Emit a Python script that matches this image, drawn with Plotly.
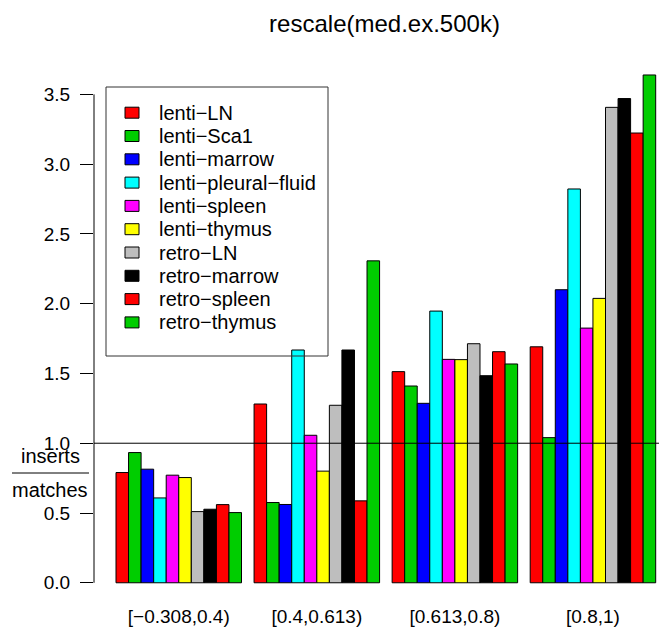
import plotly.graph_objects as go

categories = ["[\u22120.308,0.4)", "[0.4,0.613)", "[0.613,0.8)", "[0.8,1)"]
series_names = ["lenti\u2212LN", "lenti\u2212Sca1", "lenti\u2212marrow", "lenti\u2212pleural\u2212fluid",
                "lenti\u2212spleen", "lenti\u2212thymus", "retro\u2212LN", "retro\u2212marrow",
                "retro\u2212spleen", "retro\u2212thymus"]
series_colors = ["#FF0000", "#00CD00", "#0000FF", "#00FFFF", "#FF00FF", "#FFFF00",
                 "#BEBEBE", "#000000", "#FF0000", "#00CD00"]

lenti_LN = [0.79, 1.281, 1.513, 1.691]
lenti_Sca1 = [0.933, 0.575, 1.41, 1.04]
lenti_marrow = [0.814, 0.561, 1.286, 2.10]
lenti_pleural_fluid = [0.608, 1.668, 1.947, 2.822]
lenti_spleen = [0.771, 1.057, 1.601, 1.825]
lenti_thymus = [0.754, 0.80, 1.599, 2.038]
retro_LN = [0.51, 1.272, 1.713, 3.407]
retro_marrow = [0.527, 1.668, 1.484, 3.47]
retro_spleen = [0.56, 0.587, 1.656, 3.223]
retro_thymus = [0.503, 2.307, 1.568, 3.639]

series_values = [lenti_LN, lenti_Sca1, lenti_marrow, lenti_pleural_fluid, lenti_spleen,
                 lenti_thymus, retro_LN, retro_marrow, retro_spleen, retro_thymus]

y_tickvals = [0, 0.5, 1.0, 1.5, 2.0, 2.5, 3.0, 3.5]
y_ticktext = ["0.0", "0.5", "1.0", "1.5", "2.0", "2.5", "3.0", "3.5"]

# page has an 8px body margin; figure sized so it fills the window
OFF = 8
W, H = 667 - OFF, 632 - OFF
ML, MR, MT, MB = 94 - OFF, 0, 56 - OFF, 29
PW, PH = W - ML - MR, H - MT - MB
FONT = "Liberation Sans, Arial, Helvetica, sans-serif"

n_series = len(series_names)
group_size = n_series + 1

fig = go.Figure()
for j, (name, vals, col) in enumerate(zip(series_names, series_values, series_colors)):
    xs = [g * group_size + 1.5 + j for g in range(len(categories))]
    fig.add_trace(go.Bar(
        x=xs, y=vals, width=1, name=name, showlegend=False,
        marker=dict(color=col, line=dict(color="#000000", width=1)),
    ))

group_centers = [g * group_size + 1 + n_series / 2 for g in range(len(categories))]


def px_x(px):
    return (px - OFF - ML) / PW


def px_y(py):
    return (H - MB - (py - OFF)) / PH


fig.update_layout(
    width=W, height=H,
    margin=dict(l=ML, r=MR, t=MT, b=MB, autoexpand=False),
    paper_bgcolor="white", plot_bgcolor="white",
    barmode="overlay",
    font=dict(family=FONT, size=19, color="black"),
    title=dict(text="rescale(med.ex.500k)", x=px_x(384.5), xref="paper", xanchor="center",
               y=1 - (24 - OFF) / H, yref="container", yanchor="middle",
               font=dict(family=FONT, size=24, color="black")),
    xaxis=dict(range=[-0.753, 44.90], tickvals=group_centers, ticktext=categories,
               showgrid=False, zeroline=False, showline=False, ticks="",
               tickfont=dict(size=19), automargin=False),
    yaxis=dict(range=[-0.145, 3.775], tickvals=y_tickvals, ticktext=y_ticktext,
               showgrid=False, zeroline=False, showline=False, ticks="outside",
               ticklen=13, tickwidth=1, tickcolor="black", ticklabelstandoff=6,
               tickfont=dict(size=19), automargin=False),
    showlegend=False,
)

# y axis line (from 0 to 3.5, like R's axis)
fig.add_shape(type="line", xref="paper", yref="y", x0=0, x1=0, y0=0, y1=3.5,
              line=dict(color="black", width=1))
# reference line at 1
fig.add_shape(type="line", xref="paper", yref="y", x0=0, x1=1, y0=1, y1=1,
              line=dict(color="black", width=1))

# fraction y label
fig.add_annotation(text="inserts", xref="paper", yref="paper", x=px_x(50), y=px_y(456),
                   showarrow=False, xanchor="center", yanchor="middle",
                   font=dict(family=FONT, size=20, color="black"))
fig.add_annotation(text="matches", xref="paper", yref="paper", x=px_x(50), y=px_y(490),
                   showarrow=False, xanchor="center", yanchor="middle",
                   font=dict(family=FONT, size=20, color="black"))
fig.add_shape(type="line", xref="paper", yref="paper", x0=px_x(12), x1=px_x(89),
              y0=px_y(473), y1=px_y(473), line=dict(color="black", width=1))

# legend box (R-style, transparent background)
LEG_L, LEG_T, LEG_R, LEG_B = 106, 87, 328, 356
ROW0, ROW_STEP = 112.7, 23.3
fig.add_shape(type="rect", xref="paper", yref="paper",
              x0=px_x(LEG_L), x1=px_x(LEG_R), y0=px_y(LEG_B), y1=px_y(LEG_T),
              line=dict(color="#333333", width=1), fillcolor="rgba(0,0,0,0)", layer="above")
for i, (name, col) in enumerate(zip(series_names, series_colors)):
    cy = ROW0 + i * ROW_STEP
    fig.add_shape(type="rect", xref="paper", yref="paper",
                  x0=px_x(125), x1=px_x(139), y0=px_y(cy + 5.5), y1=px_y(cy - 5.5),
                  line=dict(color="black", width=1), fillcolor=col, layer="above")
    fig.add_annotation(text=name, xref="paper", yref="paper", x=px_x(157), y=px_y(cy),
                       showarrow=False, xanchor="left", yanchor="middle",
                       font=dict(family=FONT, size=20, color="black"))

fig.write_html("out.html")
